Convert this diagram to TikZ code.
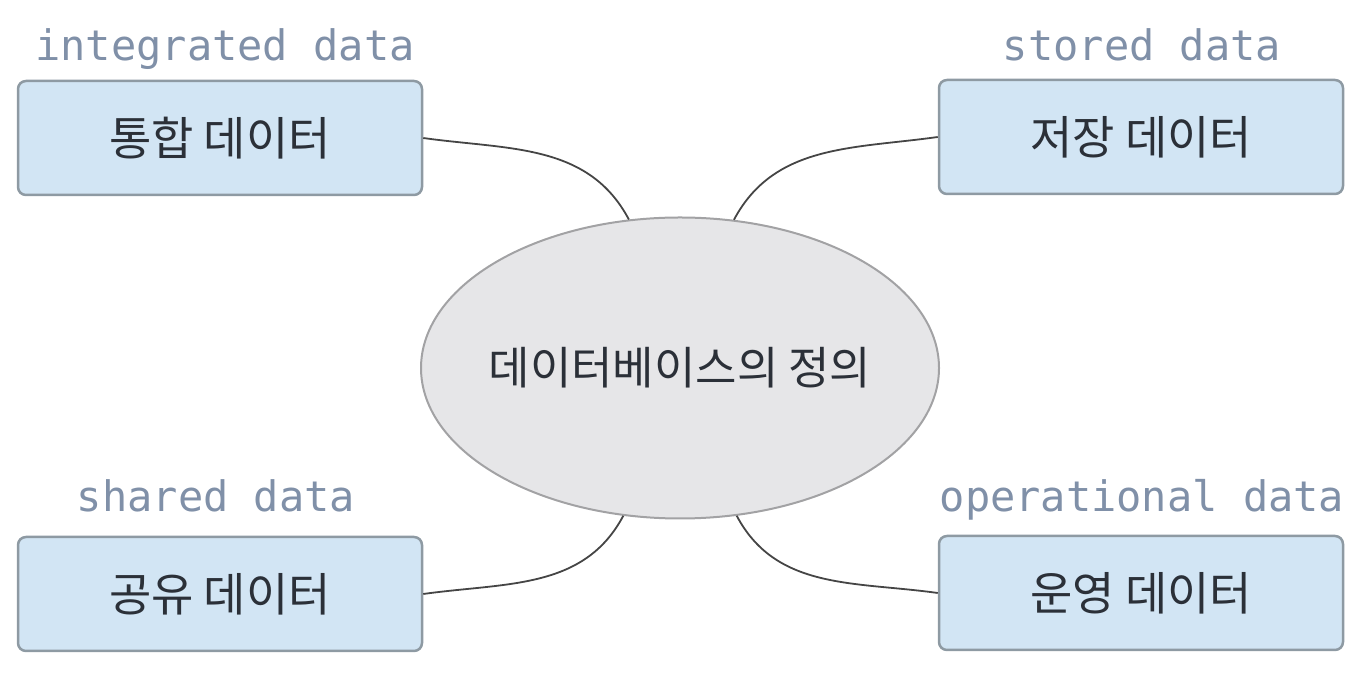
\documentclass[tikz,border=0pt]{standalone}
\usepackage{fontspec}
\setmainfont{Noto Sans CJK KR}
\newfontfamily\monolab{DejaVu Sans Mono}
\usetikzlibrary{shapes.geometric}
\definecolor{boxfill}{HTML}{D2E5F4}
\definecolor{boxdraw}{HTML}{8E9AA3}
\definecolor{elfill}{HTML}{E6E6E8}
\definecolor{eldraw}{HTML}{A2A2A4}
\definecolor{txt}{HTML}{2B3038}
\definecolor{lab}{HTML}{8090A8}
\definecolor{conn}{HTML}{454545}
\tikzset{
  databox/.style={draw=boxdraw, fill=boxfill, line width=2.5pt, rounded corners=8pt,
    minimum width=404pt, minimum height=114pt, inner sep=0pt, text=txt,
    font=\fontsize{46}{52}\selectfont},
  center/.style={ellipse, draw=eldraw, fill=elfill, line width=2pt,
    minimum width=518pt, minimum height=301pt, inner sep=0pt},
  centertext/.style={text=txt, inner sep=0pt, font=\fontsize{45}{52}\selectfont},
  englab/.style={anchor=base, text=lab, font=\monolab\fontsize{42}{48}\selectfont, inner sep=0pt},
  link/.style={draw=conn, line width=1.8pt}
}
\begin{document}
\begin{tikzpicture}[x=1pt,y=1pt]
\useasboundingbox (0,0) rectangle (1370,674);
\node[databox] (tl) at (220,536) {통합 데이터};
\node[databox] (tr) at (1141,537) {저장 데이터};
\node[databox] (bl) at (220,80) {공유 데이터};
\node[databox] (br) at (1141,81) {운영 데이터};
\node[center] (e) at (680,306) {};
\node[centertext] (et) at (e.center) {데이터베이스의 정의};
\node[englab] (ltl) at (225,613) {integrated data};
\node[englab] (ltr) at (1142,613) {stored data};
\node[englab] (lbl) at (216,162) {shared data};
\node[englab] (lbr) at (1142,162) {operational data};
\draw[link] (tl.east) to[out=-8,in=118] (e.109);
\draw[link] (tr.west) to[out=188,in=62] (e.70);
\draw[link] (bl.east) to[out=8,in=-118] (e.249);
\draw[link] (br.west) to[out=172,in=-62] (e.291);
\end{tikzpicture}
\end{document}
